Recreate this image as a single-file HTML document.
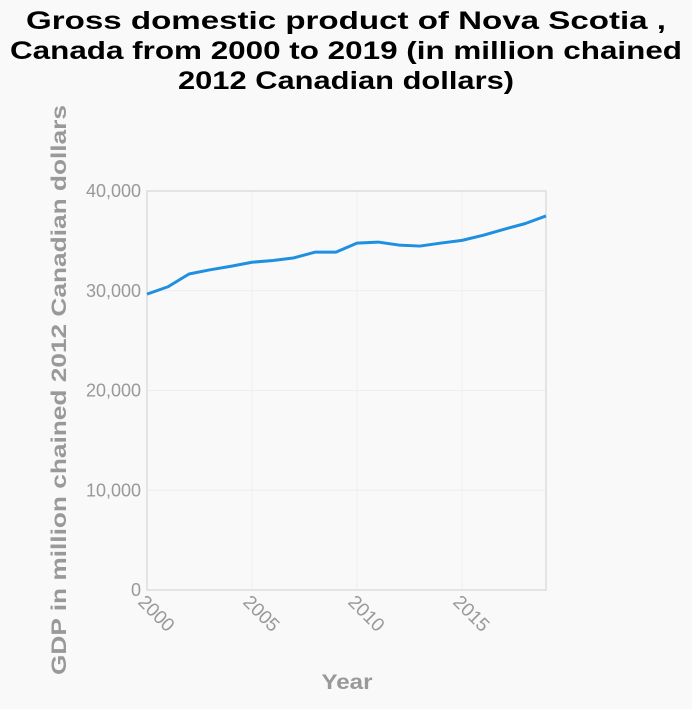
<!DOCTYPE html>
<html><head><meta charset="utf-8"><style>
body{margin:0;background:#f9f9f9;font-family:"Liberation Sans",sans-serif}
</style></head><body>
<svg width="692" height="704" xmlns="http://www.w3.org/2000/svg">
<rect width="692" height="704" fill="#f9f9f9"/>
<g font-weight="bold" font-size="25" text-anchor="middle" fill="#000">
<text x="346" y="29" textLength="640" lengthAdjust="spacingAndGlyphs">Gross domestic product of Nova Scotia ,</text>
<text x="346" y="59" textLength="672" lengthAdjust="spacingAndGlyphs">Canada from 2000 to 2019 (in million chained</text>
<text x="346" y="89" textLength="336" lengthAdjust="spacingAndGlyphs">2012 Canadian dollars)</text>
</g>
<g id="grid"></g>
<rect x="147" y="191" width="399" height="399" fill="none" stroke="#ddd" stroke-width="1.5"/>
<g id="yt" fill="#999" font-size="18" text-anchor="end"></g>
<g id="xt" fill="#999" font-size="19"></g>
<path id="line" fill="none" stroke="#1f8fe0" stroke-width="3" stroke-linejoin="round"/>
<text x="347" y="689" text-anchor="middle" font-weight="bold" font-size="21" fill="#999" textLength="51" lengthAdjust="spacingAndGlyphs">Year</text>
<text transform="translate(66,390) rotate(-90)" text-anchor="middle" font-weight="bold" font-size="21" fill="#999" textLength="570" lengthAdjust="spacingAndGlyphs">GDP in million chained 2012 Canadian dollars</text>
</svg>
<script>
const years=[2000,2001,2002,2003,2004,2005,2006,2007,2008,2009,2010,2011,2012,2013,2014,2015,2016,2017,2018,2019];
const gdp=[29660,30400,31680,32100,32460,32860,33030,33300,33870,33870,34780,34880,34580,34480,34780,35050,35560,36160,36730,37500];
const yTicks=[0,10000,20000,30000,40000];
const xTicks=[2000,2005,2010,2015];
const X=v=>147+(v-2000)/19*399, Y=v=>590-v/40000*399;
const ns="http://www.w3.org/2000/svg";
const grid=document.getElementById('grid'),yt=document.getElementById('yt'),xt=document.getElementById('xt');
yTicks.forEach(t=>{
 const l=document.createElementNS(ns,'line');l.setAttribute('x1',147);l.setAttribute('x2',546);l.setAttribute('y1',Y(t));l.setAttribute('y2',Y(t));l.setAttribute('stroke','#eee');
 
 grid.appendChild(l);
 const s=document.createElementNS(ns,'text');s.setAttribute('x',141);s.setAttribute('y',Y(t)+6);s.textContent=t.toLocaleString('en-US');
 
 yt.appendChild(s);
});
xTicks.forEach(t=>{
 const l=document.createElementNS(ns,'line');l.setAttribute('x1',X(t));l.setAttribute('x2',X(t));l.setAttribute('y1',191);l.setAttribute('y2',590);l.setAttribute('stroke','#eee');
 
 grid.appendChild(l);
 const s=document.createElementNS(ns,'text');s.setAttribute('transform',`translate(${X(t)-10},${603}) rotate(45)`);s.textContent=t;
 
 xt.appendChild(s);
});
document.getElementById('line').setAttribute('d',gdp.map((v,i)=>(i?'L':'M')+X(years[i])+','+Y(v)).join(''));
</script>
</body></html>
